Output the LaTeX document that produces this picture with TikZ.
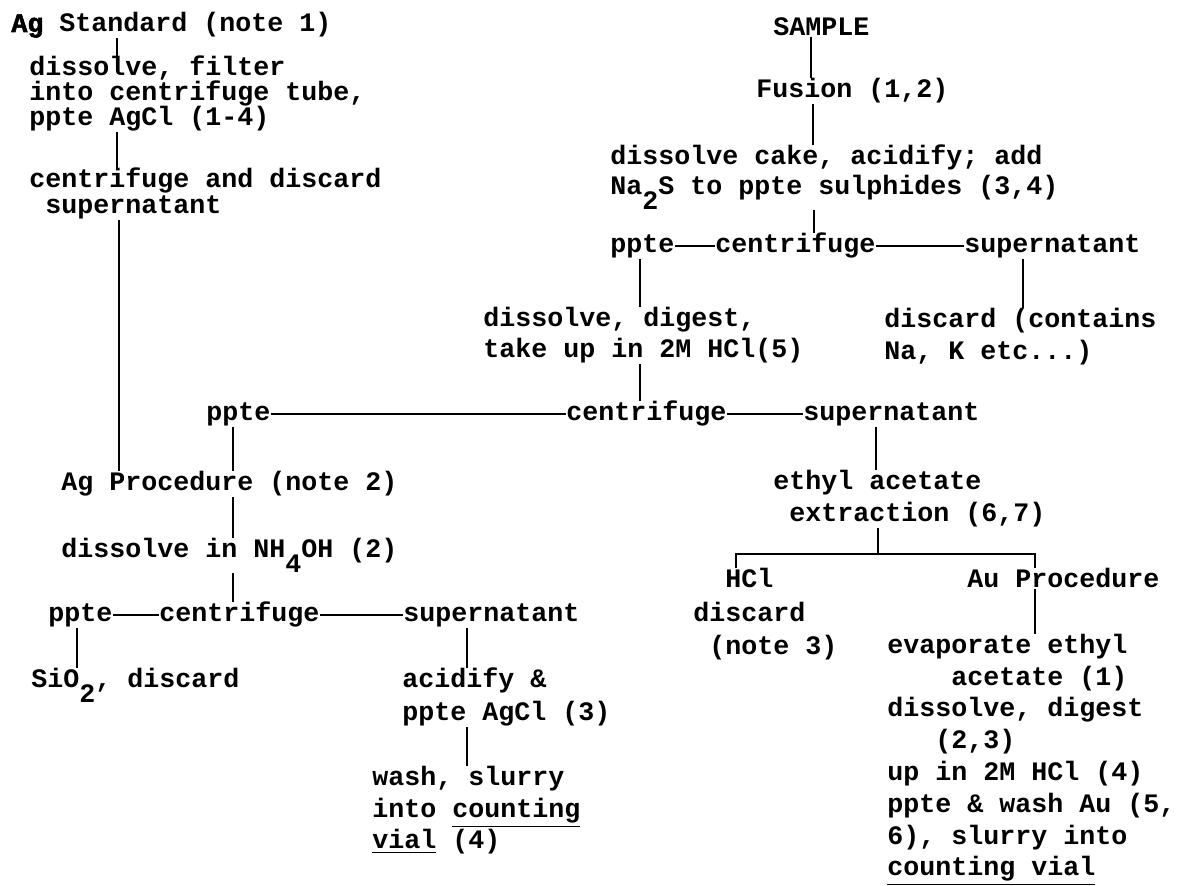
\documentclass[tikz,border=0pt]{standalone}
\usepackage{fontspec}
\newfontfamily\typer{Liberation Mono}
\newfontfamily\typerheavy{Liberation Mono}[FakeBold=2]
\newcommand{\tw}[1]{\typer\bfseries\fontsize{13.33}{#1}\selectfont\lineskiplimit=-20pt}
\newcommand{\low}[1]{\raisebox{-0.55em}{#1}}
\frenchspacing

\begin{document}
\begin{tikzpicture}[x=0.5pt,y=-0.5pt,
  txt/.style={inner sep=0pt,anchor=base west,align=left,font=\tw{16}},
  link/.style={line width=1.3pt},
  hline/.style={line width=1pt}]
\useasboundingbox (0,0) rectangle (1179,886);
% Ag standard (multi-line nodes sit on their last line)
\node[txt] (agstd) at (11,32) {{\typerheavy\bfseries Ag} Standard (note 1)};
\node[txt,font=\tw{12.5}] (agdiss) at (29,126) {dissolve, filter\\into centrifuge tube,\\ppte AgCl (1-4)};
\node[txt,font=\tw{13}] (agcent) at (29,214) {centrifuge and discard\\\ supernatant};
% sample
\node[txt] (sample) at (773,36) {SAMPLE};
\node[txt] (fusion) at (756,98) {Fusion (1,2)};
\node[txt,font=\tw{15}] (cake) at (610,195) {dissolve cake, acidify; add\\Na\low{2}S to ppte sulphides (3,4)};
\node[txt] (ppteA) at (610,253) {ppte};
\node[txt] (cfA) at (715,253) {centrifuge};
\node[txt] (supA) at (964,253) {supernatant};
\node[txt,font=\tw{15.5}] (digA) at (483,358) {dissolve, digest,\\take up in 2M HCl(5)};
\node[txt] (discA) at (884,360) {discard (contains\\Na, K etc...)};
% second centrifuge
\node[txt] (ppteB) at (206,421) {ppte};
\node[txt] (cfB) at (566,421) {centrifuge};
\node[txt] (supB) at (803,421) {supernatant};
% Ag procedure
\node[txt] (agproc) at (61,491) {Ag Procedure (note 2)};
\node[txt] (nh4) at (61,558) {dissolve in NH\low{4}OH (2)};
\node[txt] (ppteC) at (48,622) {ppte};
\node[txt] (cfC) at (159,622) {centrifuge};
\node[txt] (supC) at (403,622) {supernatant};
\node[txt] (sio) at (31,688) {SiO\low{2}, discard};
\node[txt,font=\tw{16.5}] (acid) at (402,721) {acidify \&\\ppte AgCl (3)};
\node[txt,font=\tw{15.75}] (wash) at (372,849) {wash, slurry\\into \underline{counting}\\\underline{vial} (4)};
% Au procedure
\node[txt] (ethyl) at (773,522) {ethyl acetate\\\ extraction (6,7)};
\node[txt,font=\tw{16.75}] (hcl) at (693,655) {\ \ HCl\\discard\\\ (note 3)};
\node[txt] (auproc) at (967,588) {Au Procedure};
\node[txt,font=\tw{15.9}] (evap) at (887,876) {evaporate ethyl\\\ \ \ \ acetate (1)\\dissolve, digest\\\ \ \ (2,3)\\up in 2M HCl (4)\\ppte \& wash Au (5,\\6), slurry into\\\underline{counting vial}};
% vertical links
\draw[link] (agstd.south -| 117,0) -- (agdiss.north -| 117,0);
\draw[link] (agdiss.south -| 117,0) -- (agcent.north -| 117,0);
\draw[link] (agcent.south -| 119,0) -- (agproc.north -| 119,0);
\draw[link] (sample.south -| 811,0) -- (fusion.north -| 811,0);
\draw[link] (fusion.south -| 813,0) -- (cake.north -| 813,0);
\draw[link] (cake.south -| 814,0) -- (cfA.north -| 814,0);
\draw[link] (ppteA.south -| 640,0) -- (digA.north -| 640,0);
\draw[link] (supA.south -| 1023,0) -- (discA.north -| 1023,0);
\draw[link] (digA.south -| 640,0) -- (cfB.north -| 640,0);
\draw[link] (ppteB.south -| 233,0) -- (agproc.north -| 233,0);
\draw[link] (supB.south -| 876,0) -- (ethyl.north -| 876,0);
\draw[link] (agproc.south -| 233,0) -- (nh4.north -| 233,0);
\draw[link] (nh4.south -| 233,0) -- (cfC.north -| 233,0);
\draw[link] (ppteC.south -| 77,0) -- (sio.north -| 77,0);
\draw[link] (supC.south -| 467,0) -- (acid.north -| 467,0);
\draw[link] (acid.south -| 467,0) -- (wash.north -| 467,0);
% split after extraction
\coordinate (split) at (878,554);
\draw[link] (ethyl.south -| split) -- (split);
\draw[hline] (hcl.north -| 736,0) |- (split) -| (auproc.north -| 1035,0);
\draw[link] (auproc.south -| 1035,0) -- (evap.north -| 1035,0);
% horizontal links
\draw[hline] ([yshift=3.25pt]ppteA.base east) -- ([yshift=3.25pt]cfA.base west);
\draw[hline] ([yshift=3.25pt]cfA.base east) -- ([yshift=3.25pt]supA.base west);
\draw[hline] ([yshift=3.25pt]ppteB.base east) -- ([yshift=3.25pt]cfB.base west);
\draw[hline] ([yshift=3.25pt]cfB.base east) -- ([yshift=3.25pt]supB.base west);
\draw[hline] ([yshift=3.25pt]ppteC.base east) -- ([yshift=3.25pt]cfC.base west);
\draw[hline] ([yshift=3.25pt]cfC.base east) -- ([yshift=3.25pt]supC.base west);
\end{tikzpicture}
\end{document}
